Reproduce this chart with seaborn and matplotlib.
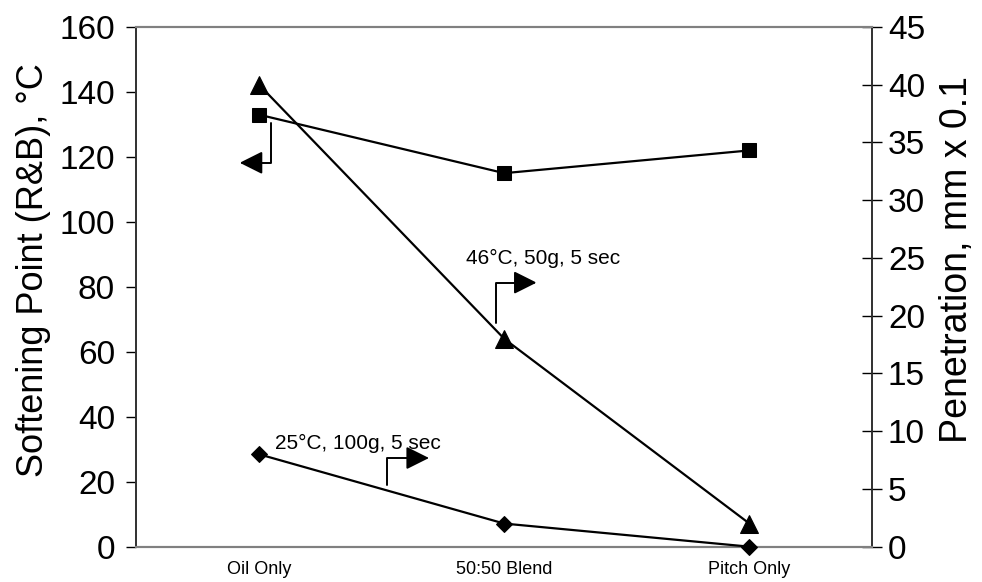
import matplotlib
matplotlib.use("Agg")
import matplotlib.pyplot as plt
import seaborn as sns
import pandas as pd

# Blend composition on the x axis
categories = ["Oil Only", "50:50 Blend", "Pitch Only"]
# Ring & Ball softening point, °C (left axis)
softening_point = [133, 115, 122]
# Needle penetration, mm x 0.1 (right axis)
penetration_46c = [40, 18, 2]
penetration_25c = [8, 2, 0]

left_ticks = [0, 20, 40, 60, 80, 100, 120, 140, 160]
right_ticks = [0, 5, 10, 15, 20, 25, 30, 35, 40, 45]

sns.set_theme(style="white")
plt.rcParams["font.family"] = ["Liberation Sans", "DejaVu Sans"]

fig = plt.figure(figsize=(9.82, 5.82), dpi=100)
ax = fig.add_axes([0.139, 0.0607, 0.749, 0.8929])
ax2 = ax.twinx()

df = pd.DataFrame({
    "x": list(range(len(categories))),
    "sp": softening_point,
    "p46": penetration_46c,
    "p25": penetration_25c,
})

line_kw = dict(color="black", linewidth=1.6, markeredgecolor="black",
               markerfacecolor="black", clip_on=False, zorder=5)
sns.lineplot(data=df, x="x", y="sp", ax=ax, marker="s", markersize=10, **line_kw)
sns.lineplot(data=df, x="x", y="p46", ax=ax2, marker="^", markersize=13, **line_kw)
sns.lineplot(data=df, x="x", y="p25", ax=ax2, marker="D", markersize=8, **line_kw)

ax.set_xlim(-0.5, 2.5)
ax.set_ylim(0, 160)
ax2.set_ylim(0, 45)

ax.set_xticks(df["x"], categories)
ax.set_yticks(left_ticks)
ax2.set_yticks(right_ticks)
ax.tick_params(axis="x", length=0, labelsize=13, pad=10, colors="black")
ax.tick_params(axis="y", direction="out", length=7.5, width=1, labelsize=24,
               pad=8, left=True, colors="black")
ax2.tick_params(axis="y", direction="inout", length=15, width=1, labelsize=24,
                pad=4, right=True, colors="black")

ax.set_xlabel("")
ax.set_ylabel("Softening Point (R&B), °C", fontsize=26, color="black", labelpad=6)
ax2.set_ylabel("Penetration, mm x 0.1", fontsize=27, color="black", labelpad=10)
ax.yaxis.label.set_y(0.533)
ax2.yaxis.label.set_y(0.552)

for a in (ax, ax2):
    for side in ("top", "bottom"):
        a.spines[side].set_color("#808080")
        a.spines[side].set_linewidth(1.5)
    for side in ("left", "right"):
        a.spines[side].set_color("#303030")
        a.spines[side].set_linewidth(1.2)

# Bent pointer arrows showing which axis each curve belongs to
arrow_kw = dict(arrowstyle="-|>,head_length=1.0,head_width=0.5",
                connectionstyle="angle,angleA=90,angleB=0,rad=0",
                color="black", lw=1.4, shrinkA=0, shrinkB=0, mutation_scale=14)
ax.annotate("", xy=(-0.079, 118.2), xytext=(0.047, 130.5), arrowprops=arrow_kw)
ax.annotate("", xy=(1.132, 81.3), xytext=(0.965, 68.9), arrowprops=arrow_kw)
ax.annotate("", xy=(0.693, 27.3), xytext=(0.522, 19.1), arrowprops=arrow_kw)

ax.text(0.843, 88.6, "46°C, 50g, 5 sec", fontsize=15, va="center", ha="left", color="black")
ax.text(0.064, 31.7, "25°C, 100g, 5 sec", fontsize=15, va="center", ha="left", color="black")

fig.savefig("out.png", dpi=100)
